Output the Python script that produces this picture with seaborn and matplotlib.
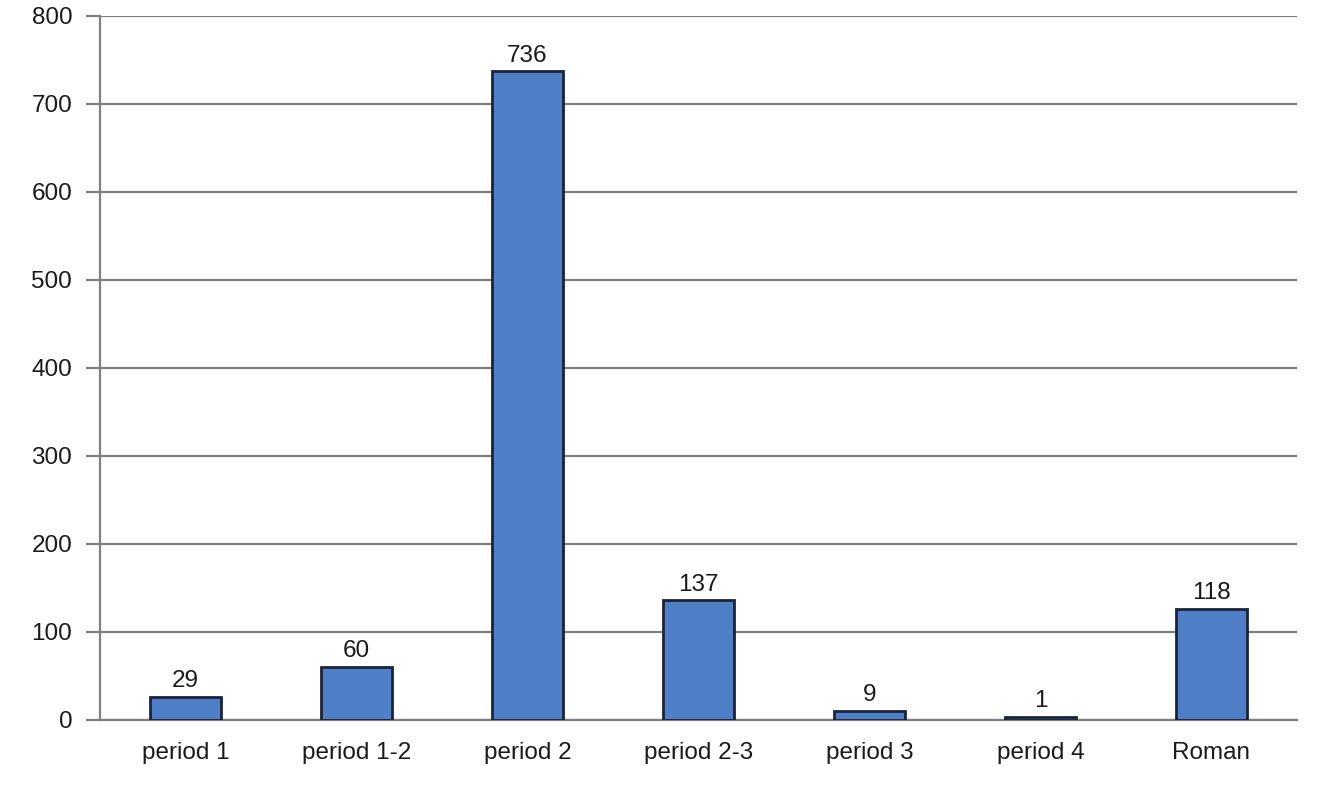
import matplotlib
matplotlib.use("Agg")
import matplotlib.pyplot as plt
import seaborn as sns
import pandas as pd

# Data
periods = ["period 1", "period 1-2", "period 2", "period 2-3", "period 3", "period 4", "Roman"]
bar_heights = [26.5, 60.5, 737, 136, 10.5, 3.8, 126.5]
bar_labels = ["29", "60", "736", "137", "9", "1", "118"]

df = pd.DataFrame({"period": periods, "count": bar_heights})

sns.set_style("white")
plt.rcParams["font.family"] = ["Liberation Sans", "DejaVu Sans"]

fig = plt.figure(figsize=(13.27, 7.86), dpi=100)
ax = fig.add_axes([100 / 1327, 66 / 786, 1197 / 1327, 704 / 786])

sns.barplot(data=df, x="period", y="count", color="#4f7fc6", width=0.41,
            edgecolor="#1b2438", linewidth=2, saturation=1, ax=ax, zorder=3)

ax.set_ylim(0, 800)
ax.set_xlim(-0.5, len(periods) - 0.5)
ax.set_yticks(range(0, 801, 100))
ax.yaxis.grid(True, color="#808080", linewidth=1.6, zorder=0)
ax.set_axisbelow(True)

for sp in ["top", "right"]:
    ax.spines[sp].set_visible(False)
for sp in ["left", "bottom"]:
    ax.spines[sp].set_color("#808080")
    ax.spines[sp].set_linewidth(1.6)

# category separators as ticks on the x axis
ax.set_xticks([i - 0.5 for i in range(len(periods) + 1)], minor=True)
ax.tick_params(axis="x", which="minor", length=12, width=1.6, color="#808080")
ax.tick_params(axis="x", which="major", length=0, pad=16, labelsize=17.5, labelcolor="#1a1a1a")
ax.tick_params(axis="y", length=10, width=1.6, color="#808080", pad=10,
               labelsize=17.5, labelcolor="#1a1a1a", left=True)

for i, (h, lab) in enumerate(zip(bar_heights, bar_labels)):
    ax.text(i, h + 5, lab, ha="center", va="bottom", fontsize=17.5, color="#1a1a1a")

ax.set_xlabel("")
ax.set_ylabel("")

fig.savefig("out.png", dpi=100)
